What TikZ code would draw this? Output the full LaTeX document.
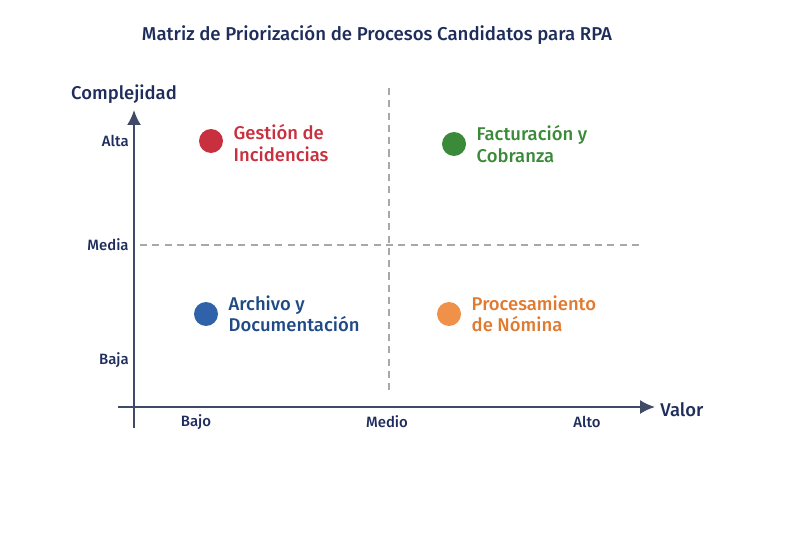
\documentclass[tikz,border=0pt]{standalone}
\usepackage{fontspec}
\setmainfont{Fira Sans Medium}
\usetikzlibrary{arrows.meta, positioning}
\definecolor{navy}{HTML}{1F2D5C}
\definecolor{axiscol}{HTML}{3E4A66}
\definecolor{gridcol}{HTML}{A8A8A8}
\definecolor{redc}{HTML}{C9303F}
\definecolor{greenc}{HTML}{3A8A3A}
\definecolor{bluec}{HTML}{2F62A8}
\definecolor{bluet}{HTML}{1F4A85}
\definecolor{orangec}{HTML}{F0914A}
\definecolor{oranget}{HTML}{E07A30}
\tikzstyle{dot} = [circle, inner sep=0pt, minimum size=0.48cm]
\tikzstyle{procname} = [inner sep=0pt, align=left, font=\fontsize{10.5}{12.2}\selectfont]
\tikzstyle{tick} = [inner sep=0pt, text=navy, font=\fontsize{8.5}{10}\selectfont]
\tikzstyle{axis} = [draw=axiscol, line width=1.1pt, -{Latex[length=0.3cm, width=0.28cm]}]
\tikzstyle{grid} = [draw=gridcol, line width=0.7pt, dash pattern=on 4pt off 3pt]

\begin{document}
\begin{tikzpicture}[x=0.02cm, y=-0.02cm]
    \useasboundingbox (0,0) rectangle (800,533);
    \node[text=navy, font=\fontsize{10.6}{12}\selectfont] (title) at (377,35) {Matriz de Priorización de Procesos Candidatos para RPA};
    % quadrant lines
    \coordinate (hl) at (140,245);
    \coordinate (hr) at (640,245);
    \coordinate (vt) at (389,88);
    \coordinate (vb) at (389,390);
    \draw[grid] (hl) -- (hr);
    \draw[grid] (vt) -- (vb);
    % axes
    \coordinate (ybot) at (134,428);
    \coordinate (ytop) at (134,110);
    \coordinate (xleft) at (118,407);
    \coordinate (xright) at (655,407);
    \draw[axis] (ybot) -- (ytop);
    \draw[axis] (xleft) -- (xright);
    \node[text=navy, font=\fontsize{10.5}{12}\selectfont] (ylab) at (124,94) {Complejidad};
    \node[text=navy, font=\fontsize{10.5}{12}\selectfont, anchor=west, inner sep=0pt] (xlab) at (660,410) {Valor};
    % ticks
    \node[tick, anchor=east] (alta) at (129,141) {Alta};
    \node[tick, anchor=east] (media) at (129,245) {Media};
    \node[tick, anchor=east] (baja) at (129,360) {Baja};
    \node[tick] (bajo) at (196,422) {Bajo};
    \node[tick] (medio) at (387,422) {Medio};
    \node[tick] (alto) at (587,422) {Alto};
    % processes
    \node[dot, fill=redc] (gest) at (211,141) {};
    \node[procname, text=redc, right=0.2cm of gest, yshift=-0.04cm] (gestlab) {Gestión de\\Incidencias};
    \node[dot, fill=greenc] (fact) at (454,144) {};
    \node[procname, text=greenc, right=0.2cm of fact] (factlab) {Facturación y\\Cobranza};
    \node[dot, fill=bluec] (arch) at (206,314) {};
    \node[procname, text=bluet, right=0.2cm of arch] (archlab) {Archivo y\\Documentación};
    \node[dot, fill=orangec] (proc) at (449,314) {};
    \node[procname, text=oranget, right=0.2cm of proc] (proclab) {Procesamiento\\de Nómina};
\end{tikzpicture}
\end{document}
